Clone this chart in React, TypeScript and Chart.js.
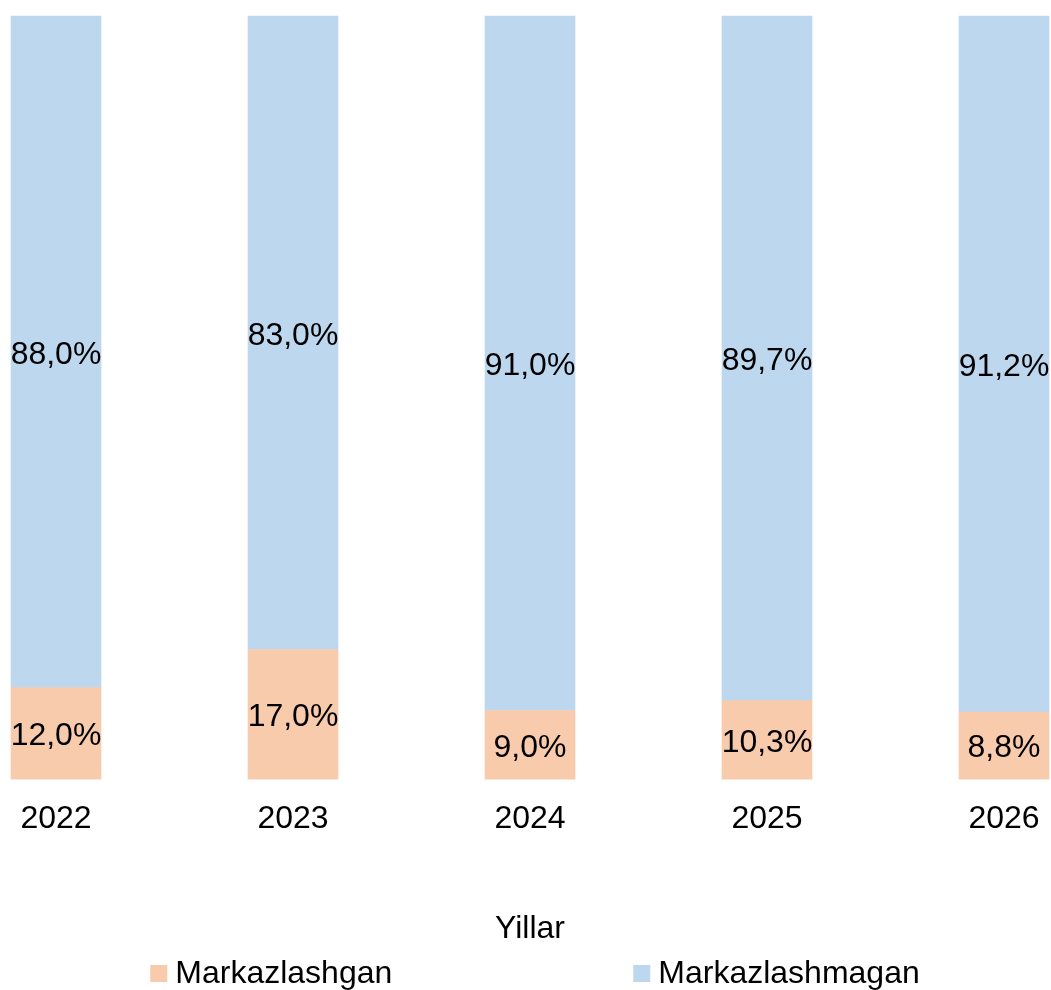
import React, { useEffect, useRef } from "react";
import { Chart, registerables } from "chart.js";

Chart.register(...registerables);

const categories = ["2022", "2023", "2024", "2025", "2026"];
const centralized = [12.0, 17.0, 9.0, 10.3, 8.8];
const decentralized = [88.0, 83.0, 91.0, 89.7, 91.2];
const seriesNames = ["Markazlashgan", "Markazlashmagan"];
const seriesColors = ["#F8CBAD", "#BDD7EE"];
const axisTitle = "Yillar";

const FONT = "'Liberation Sans', Arial, sans-serif";
const FONT_SIZE = 32;

const fmt = (v: number) => v.toFixed(1).replace(".", ",") + "%";

const dataLabelPlugin = {
  id: "dataLabels",
  afterDatasetsDraw(chart: any) {
    const ctx = chart.ctx;
    ctx.save();
    ctx.font = `${FONT_SIZE}px ${FONT}`;
    ctx.fillStyle = "#000";
    ctx.textAlign = "center";
    ctx.textBaseline = "middle";
    chart.data.datasets.forEach((ds: any, di: number) => {
      const meta = chart.getDatasetMeta(di);
      meta.data.forEach((bar: any, i: number) => {
        const y = (bar.y + bar.base) / 2 + 3;
        ctx.fillText(fmt(ds.data[i]), bar.x, y);
      });
    });
    ctx.restore();
  },
};

const customLegendPlugin = {
  id: "customLegend",
  afterDraw(chart: any) {
    const ctx = chart.ctx;
    ctx.save();
    ctx.font = `${FONT_SIZE}px ${FONT}`;
    const box = 17;
    const textGap = 8;
    const itemGap = 241;
    const items = chart.data.datasets.map((ds: any) => ({
      text: ds.label,
      color: ds.backgroundColor,
      w: box + textGap + ctx.measureText(ds.label).width,
    }));
    const total = items.reduce((s: number, it: any) => s + it.w, 0) + itemGap * (items.length - 1);
    const ca = chart.chartArea;
    let x = (ca.left + ca.right) / 2 + 5 - total / 2;
    const yc = chart.height - 16.5;
    items.forEach((it: any) => {
      ctx.fillStyle = it.color;
      ctx.fillRect(x, yc - box / 2, box, box);
      ctx.fillStyle = "#000";
      ctx.textAlign = "left";
      ctx.textBaseline = "middle";
      ctx.fillText(it.text, x + box + textGap, yc + 1);
      x += it.w + itemGap;
    });
    ctx.restore();
  },
};

export default function App() {
  const ref = useRef<HTMLCanvasElement>(null);
  useEffect(() => {
    if (!ref.current) return;
    const chart = new Chart(ref.current, {
      type: "bar",
      data: {
        labels: categories,
        datasets: [
          {
            label: seriesNames[0],
            data: centralized,
            backgroundColor: seriesColors[0],
            barThickness: 90,
            clip: false,
          } as any,
          {
            label: seriesNames[1],
            data: decentralized,
            backgroundColor: seriesColors[1],
            barThickness: 90,
            clip: false,
          } as any,
        ],
      },
      options: {
        responsive: false,
        animation: false,
        layout: { padding: { left: 56, right: 47, top: 16, bottom: 42 } },
        plugins: {
          legend: { display: false },
          tooltip: { enabled: false },
        },
        scales: {
          x: {
            stacked: true,
            offset: false,
            grid: { display: false, drawTicks: true, tickLength: 21 },
            border: { display: false },
            ticks: {
              color: "#000",
              font: { family: FONT, size: FONT_SIZE },
              padding: 0,
              maxRotation: 0,
            },
            title: {
              display: true,
              text: axisTitle,
              color: "#000",
              font: { family: FONT, size: FONT_SIZE },
              padding: { top: 71, bottom: 0 },
            },
          },
          y: {
            stacked: true,
            display: false,
            min: 0,
            max: 100,
          },
        },
      },
      plugins: [dataLabelPlugin, customLegendPlugin],
    });
    return () => chart.destroy();
  }, []);
  return (
    <div style={{ position: "absolute", left: 0, top: 0, width: 1051, height: 990 }}>
      <canvas ref={ref} width={1051} height={990} />
    </div>
  );
}
